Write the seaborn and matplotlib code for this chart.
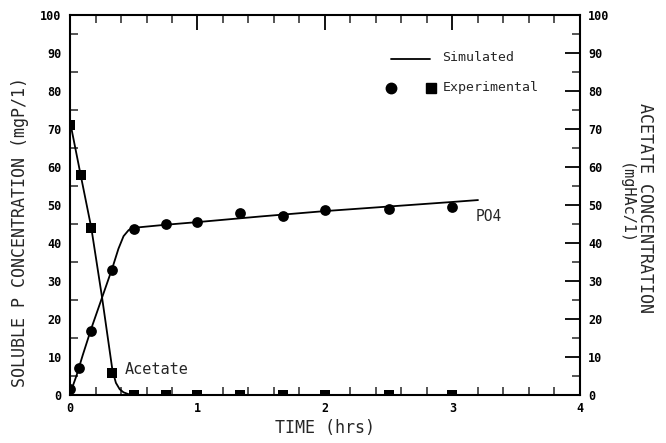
import matplotlib
matplotlib.use("Agg")
import matplotlib.pyplot as plt
import seaborn as sns
import numpy as np
import pandas as pd
from matplotlib.lines import Line2D
from matplotlib.ticker import MultipleLocator

# ---- data ----
exp_time = [0.0, 0.067, 0.167, 0.333, 0.5, 0.75, 1.0, 1.33, 1.67, 2.0, 2.5, 3.0]
exp_po4 = [1.5, 7.0, 16.8, 33.0, 43.8, 45.0, 45.4, 47.8, 47.2, 48.7, 49.0, 49.5]
acet_time = [0.0, 0.083, 0.167, 0.333, 0.5, 0.75, 1.0, 1.33, 1.67, 2.0, 2.5, 3.0]
exp_acetate = [71.0, 58.0, 44.0, 5.8, 0.0, 0.0, 0.0, 0.0, 0.0, 0.0, 0.0, 0.0]

sim_time_po4 = [0.0, 0.05, 0.1, 0.167, 0.25, 0.333, 0.38, 0.42, 0.46, 0.5, 0.75, 1.0, 1.5, 2.0, 2.5, 3.0, 3.2]
sim_po4 = [0.3, 5.0, 10.5, 17.5, 25.5, 33.5, 38.5, 41.8, 43.4, 44.0, 44.8, 45.5, 47.0, 48.4, 49.6, 50.8, 51.3]
sim_time_ac = [0.0, 0.083, 0.167, 0.25, 0.333, 0.36, 0.39, 0.42, 0.46, 0.5, 1.0, 2.0, 3.0, 3.2]
sim_acetate = [72.0, 58.0, 44.0, 26.0, 6.5, 3.2, 1.5, 0.7, 0.2, 0.0, 0.0, 0.0, 0.0, 0.0]

x_ticks = [0, 1, 2, 3, 4]
y_ticks = [0, 10, 20, 30, 40, 50, 60, 70, 80, 90, 100]

# ---- plot ----
sns.set_style("white")
plt.rcParams["font.family"] = ["DejaVu Sans Mono", "DejaVu Sans"]

fig = plt.figure(figsize=(6.66, 4.43), dpi=100)
ax = fig.add_axes([70 / 666, 1 - 395 / 443, 510 / 666, 380 / 443])

sim_p = pd.DataFrame({"t": sim_time_po4, "v": sim_po4})
sim_a = pd.DataFrame({"t": sim_time_ac, "v": sim_acetate})
exp_p = pd.DataFrame({"t": exp_time, "v": exp_po4})
exp_a = pd.DataFrame({"t": acet_time, "v": exp_acetate})

sns.lineplot(data=sim_p, x="t", y="v", ax=ax, color="black", lw=1.3, sort=False)
sns.lineplot(data=sim_a, x="t", y="v", ax=ax, color="black", lw=1.3, sort=False)
sns.scatterplot(data=exp_p, x="t", y="v", ax=ax, color="black", marker="o",
                s=60, edgecolor="black", linewidth=0, zorder=5)
sns.scatterplot(data=exp_a, x="t", y="v", ax=ax, color="black", marker="s",
                s=60, edgecolor="black", linewidth=0, zorder=5)

ax.set_xlim(0, 4)
ax.set_ylim(0, 100)
ax.set_xticks(x_ticks)
ax.set_xticklabels([str(v) for v in x_ticks])
ax.set_yticks(y_ticks)
ax.set_yticklabels([str(v) for v in y_ticks])
ax.xaxis.set_minor_locator(MultipleLocator(0.2))
ax.yaxis.set_minor_locator(MultipleLocator(5))
ax.set_xlabel("")
ax.set_ylabel("")

for sp in ax.spines.values():
    sp.set_visible(True)
    sp.set_linewidth(1.5)
    sp.set_color("black")

ax.tick_params(axis="both", which="major", direction="in", length=11, width=1.3,
               top=True, right=True, labelright=True, labelsize=8.5, pad=5,
               colors="black")
ax.tick_params(axis="both", which="minor", direction="in", length=5.5, width=1.1,
               top=True, right=True, bottom=True, left=True)
ax.tick_params(axis="y", which="major", pad=6)
for lab in ax.get_xticklabels() + ax.get_yticklabels():
    lab.set_fontweight("bold")

# labels
fig.text(325 / 666, 1 - 428 / 443, "TIME (hrs)", ha="center", va="center", fontsize=12)
fig.text(20 / 666, 1 - 232 / 443, "SOLUBLE P CONCENTRATION (mgP/1)", ha="center",
         va="center", rotation=90, fontsize=12)
fig.text(645 / 666, 1 - 208 / 443, "ACETATE CONCENTRATION", ha="center",
         va="center", rotation=270, fontsize=12)
fig.text(625 / 666, 1 - 204 / 443, "(mgHAc/1)", ha="center",
         va="center", rotation=270, fontsize=11)

# annotations
ax.text(3.18, 47.0, "PO4", fontsize=10.5, ha="left", va="center")
ax.text(0.43, 6.8, "Acetate", fontsize=11, ha="left", va="center")

# legend (drawn manually)
ax.add_line(Line2D([2.52, 2.82], [88.5, 88.5], color="black", lw=1.3))
ax.text(2.92, 88.7, "Simulated", fontsize=9.5, ha="left", va="center")
ax.plot([2.52], [80.8], marker="o", color="black", ms=7.5, ls="none")
ax.plot([2.83], [80.8], marker="s", color="black", ms=7, ls="none")
ax.text(2.92, 80.8, "Experimental", fontsize=9.5, ha="left", va="center")

fig.savefig("out.png", dpi=100)
